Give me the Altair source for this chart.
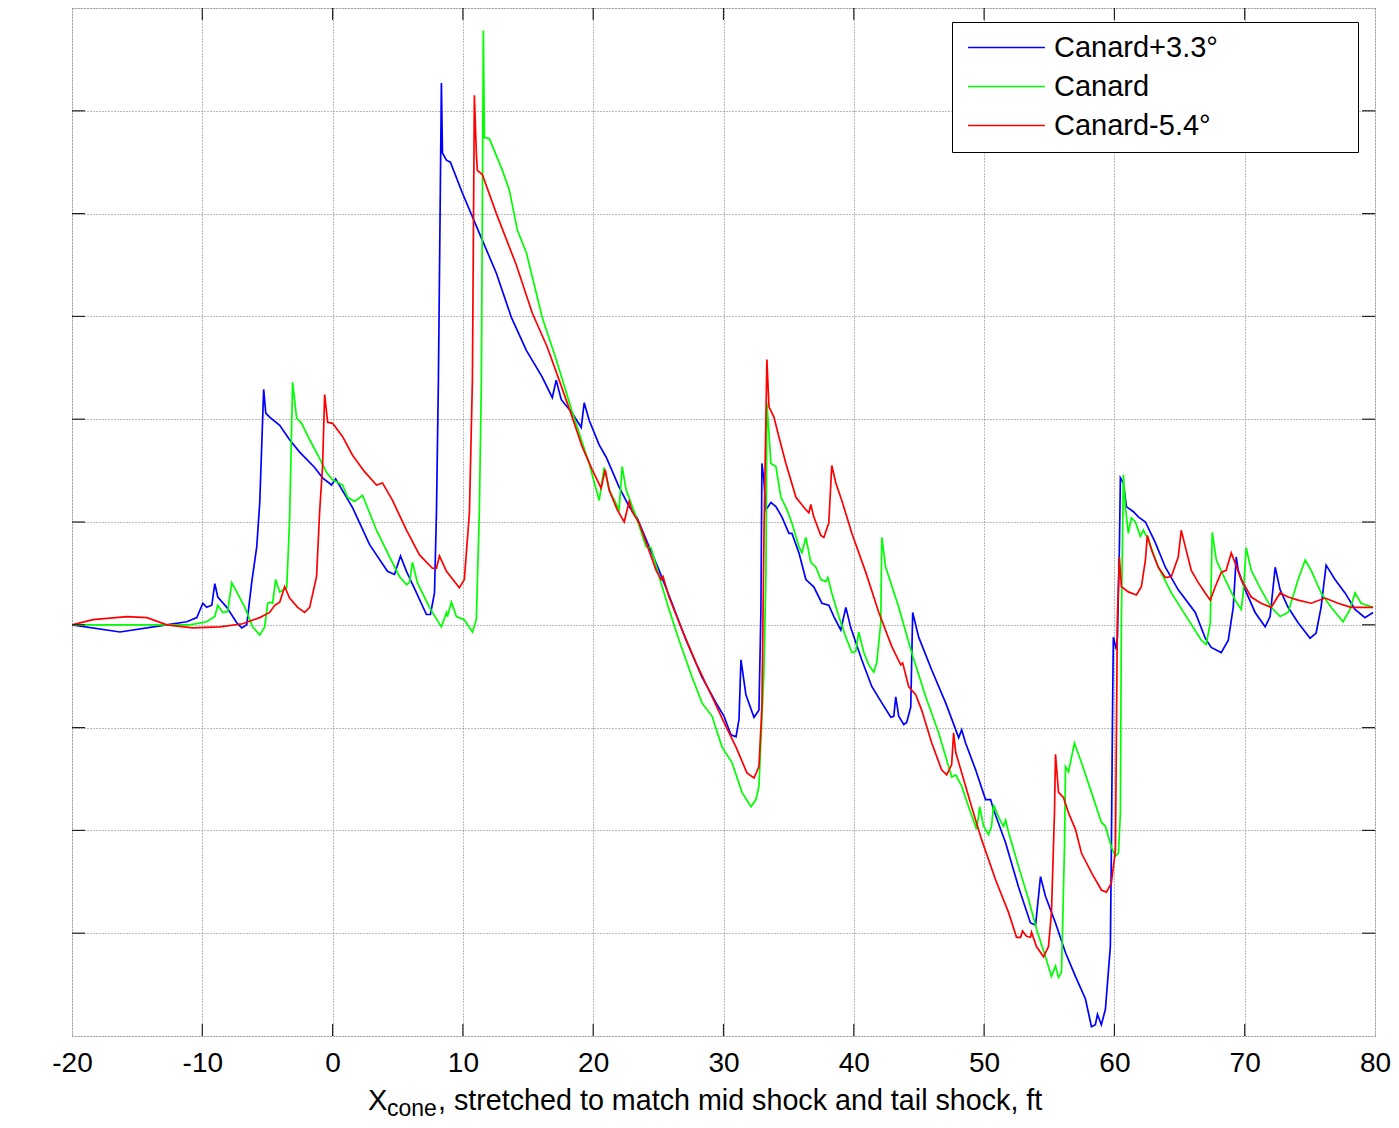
import altair as alt
import pandas as pd

# ---------------- data ----------------
series_names = ["Canard+3.3°", "Canard", "Canard-5.4°"]
series_colors = ["#0000ff", "#00ff00", "#ff0000"]

blue_x = [-20.00, -16.32, -13.26, -11.19, -10.42, -9.96, -9.66, -9.27, -9.04, -8.81,
          -8.12, -7.36, -6.97, -6.59, -6.21, -5.82, -5.59, -5.29, -5.13, -4.83,
          -4.06, -3.30, -2.53, -1.38, -0.77, -0.08, 0.23, 1.53, 2.84, 4.21,
          4.75, 5.21, 5.67, 6.44, 7.20, 7.51, 7.82, 7.97, 8.12, 8.35,
          8.43, 8.74, 9.04, 9.96, 11.26, 12.57, 13.72, 14.87, 16.09, 16.86,
          17.16, 17.55, 18.39, 19.08, 19.31, 19.69, 20.46, 21.00, 21.99, 22.76,
          23.37, 24.29, 25.06, 26.05, 27.13, 28.35, 29.43, 30.04, 30.57, 30.96,
          31.19, 31.34, 31.72, 32.34, 32.72, 32.87, 32.95, 33.10, 33.26, 33.64,
          34.02, 34.48, 35.02, 35.25, 35.79, 36.32, 36.93, 37.55, 38.08, 38.47,
          39.00, 39.39, 39.77, 40.61, 41.38, 42.15, 42.84, 43.07, 43.22, 43.45,
          43.83, 44.06, 44.37, 44.52, 44.98, 45.98, 47.05, 47.82, 48.05, 48.28,
          48.58, 49.35, 50.11, 50.50, 50.73, 51.65, 52.64, 53.56, 53.95, 54.33,
          54.71, 55.48, 56.25, 57.01, 57.78, 58.24, 58.54, 58.70, 59.00, 59.31,
          59.69, 59.77, 59.85, 59.92, 60.15, 60.23, 60.38, 60.46, 60.69, 60.92,
          61.46, 61.84, 62.38, 63.14, 63.91, 64.90, 66.21, 66.97, 67.43, 68.20,
          68.74, 69.12, 69.35, 69.50, 70.04, 70.80, 71.57, 71.95, 72.34, 72.72,
          73.33, 74.10, 75.02, 75.48, 75.86, 76.25, 76.93, 77.70, 78.47, 79.23,
          79.85]
blue_y = [0.00, -0.07, -0.01, 0.03, 0.07, 0.21, 0.17, 0.19, 0.40, 0.27,
          0.17, 0.02, -0.03, 0.00, 0.41, 0.76, 1.19, 2.29, 2.06, 2.02,
          1.94, 1.80, 1.68, 1.53, 1.43, 1.36, 1.42, 1.14, 0.78, 0.52,
          0.49, 0.67, 0.52, 0.31, 0.10, 0.10, 0.31, 1.09, 2.38, 5.27,
          4.59, 4.52, 4.50, 4.20, 3.81, 3.42, 2.99, 2.67, 2.41, 2.21,
          2.38, 2.19, 2.06, 1.92, 2.16, 1.99, 1.75, 1.63, 1.34, 1.15,
          1.04, 0.76, 0.53, 0.21, -0.15, -0.51, -0.76, -0.89, -1.07, -1.09,
          -0.92, -0.34, -0.68, -0.90, -0.83, 0.12, 1.57, 1.41, 1.12, 1.19,
          1.15, 1.05, 0.89, 0.89, 0.70, 0.44, 0.37, 0.21, 0.19, 0.08,
          -0.05, 0.17, -0.03, -0.34, -0.60, -0.76, -0.90, -0.89, -0.70, -0.89,
          -0.97, -0.95, -0.80, 0.12, -0.12, -0.44, -0.76, -1.02, -1.10, -1.02,
          -1.15, -1.41, -1.70, -1.70, -1.80, -2.12, -2.55, -2.90, -2.92, -2.45,
          -2.64, -2.90, -3.19, -3.42, -3.64, -3.91, -3.89, -3.79, -3.89, -3.74,
          -3.13, -2.16, -0.95, -0.12, -0.24, -0.12, 0.73, 1.43, 1.38, 1.15,
          1.10, 1.05, 1.00, 0.80, 0.56, 0.34, 0.12, -0.13, -0.22, -0.27,
          -0.15, 0.17, 0.66, 0.53, 0.34, 0.12, -0.02, 0.08, 0.56, 0.34,
          0.17, 0.02, -0.13, -0.08, 0.17, 0.58, 0.44, 0.31, 0.15, 0.07,
          0.12]

green_x = [-20.00, -12.72, -10.96, -9.66, -9.04, -8.81, -8.43, -8.05, -7.74, -7.36,
           -6.74, -6.13, -5.59, -5.21, -4.98, -4.75, -4.60, -4.37, -4.06, -3.52,
           -3.30, -3.07, -2.76, -2.38, -1.76, -1.00, -0.46, 0.00, 0.77, 1.15,
           1.69, 2.30, 3.37, 4.37, 5.13, 5.67, 5.90, 6.13, 6.51, 7.43,
           8.35, 8.74, 8.81, 9.12, 9.50, 10.11, 10.73, 11.03, 11.26, 11.42,
           11.57, 11.65, 12.03, 13.03, 13.56, 14.18, 14.87, 16.09, 17.16, 18.39,
           19.69, 20.46, 20.84, 21.23, 21.99, 22.22, 22.53, 23.30, 24.06, 24.44,
           25.06, 25.82, 26.59, 27.59, 28.35, 29.12, 29.89, 30.65, 31.42, 32.11,
           32.49, 32.72, 33.10, 33.26, 33.33, 33.64, 34.02, 34.41, 34.87, 35.25,
           35.79, 36.02, 36.32, 36.70, 37.09, 37.47, 37.85, 38.01, 38.31, 38.85,
           39.39, 39.85, 40.15, 40.38, 40.77, 41.15, 41.53, 41.76, 42.07, 42.15,
           42.45, 43.45, 44.44, 45.52, 46.51, 47.28, 47.51, 47.82, 48.28, 48.81,
           49.43, 49.66, 49.96, 50.34, 50.57, 50.73, 51.11, 51.49, 51.65, 51.88,
           52.64, 53.41, 54.02, 54.71, 55.17, 55.48, 55.71, 55.94, 56.17, 56.25,
           56.48, 56.93, 57.47, 58.24, 59.00, 59.31, 59.77, 60.08, 60.31, 60.46,
           60.54, 60.69, 60.84, 61.07, 61.30, 61.61, 61.99, 62.22, 62.61, 63.37,
           64.37, 65.67, 66.67, 67.05, 67.36, 67.51, 67.82, 68.51, 69.27, 69.73,
           69.89, 70.11, 70.50, 71.26, 72.03, 72.72, 73.33, 74.10, 74.64, 75.10,
           75.86, 76.63, 77.55, 78.08, 78.47, 78.93, 79.85]
green_y = [0.00, 0.00, 0.00, 0.03, 0.08, 0.19, 0.12, 0.13, 0.41, 0.32,
           0.17, -0.02, -0.10, -0.02, 0.21, 0.22, 0.21, 0.44, 0.32, 0.36,
           1.02, 2.36, 2.01, 1.96, 1.80, 1.62, 1.48, 1.41, 1.36, 1.24,
           1.20, 1.26, 0.92, 0.66, 0.47, 0.39, 0.41, 0.61, 0.41, 0.17,
           -0.02, 0.12, 0.08, 0.22, 0.08, 0.05, -0.07, 0.05, 1.09, 2.38,
           5.78, 4.74, 4.73, 4.42, 4.23, 3.84, 3.62, 2.99, 2.58, 2.07,
           1.57, 1.21, 1.53, 1.31, 1.12, 1.54, 1.31, 1.05, 0.76, 0.75,
           0.47, 0.15, -0.15, -0.51, -0.76, -0.89, -1.19, -1.34, -1.63, -1.77,
           -1.70, -1.57, -0.47, 0.51, 2.16, 1.57, 1.54, 1.24, 1.12, 0.99,
           0.76, 0.70, 0.85, 0.61, 0.56, 0.44, 0.42, 0.46, 0.31, 0.08,
           -0.12, -0.27, -0.26, -0.07, -0.27, -0.39, -0.46, -0.37, 0.02, 0.85,
           0.56, 0.17, -0.27, -0.70, -1.05, -1.38, -1.48, -1.46, -1.57, -1.77,
           -1.99, -1.77, -1.96, -2.04, -1.96, -1.75, -1.87, -1.96, -1.90, -2.02,
           -2.35, -2.67, -2.96, -3.23, -3.42, -3.32, -3.43, -3.38, -2.16, -1.38,
           -1.43, -1.15, -1.34, -1.63, -1.92, -1.96, -2.16, -2.25, -2.22, -1.83,
           0.08, 1.46, 1.15, 0.89, 1.04, 1.00, 0.86, 0.92, 0.83, 0.56,
           0.31, 0.05, -0.15, -0.19, 0.02, 0.90, 0.63, 0.44, 0.24, 0.15,
           0.31, 0.75, 0.53, 0.34, 0.17, 0.08, 0.12, 0.44, 0.63, 0.53,
           0.31, 0.17, 0.03, 0.15, 0.31, 0.21, 0.17]

red_x = [-20.00, -18.39, -15.79, -14.25, -12.72, -10.73, -8.66, -6.90, -5.59, -4.83,
         -4.44, -4.06, -3.68, -3.30, -2.68, -2.15, -1.76, -1.23, -1.00, -0.77,
         -0.61, -0.38, 0.00, 0.77, 1.53, 2.45, 3.37, 3.83, 4.60, 5.67,
         6.67, 7.66, 7.97, 8.20, 8.74, 9.73, 10.11, 10.50, 10.73, 10.88,
         11.03, 11.11, 11.49, 12.57, 14.10, 15.33, 16.48, 17.39, 18.39, 19.16,
         19.92, 20.61, 20.92, 21.23, 21.84, 22.38, 22.76, 22.99, 23.52, 24.06,
         24.83, 25.21, 25.36, 25.82, 26.82, 27.89, 29.12, 30.04, 30.96, 31.80,
         32.34, 32.72, 32.95, 33.10, 33.33, 33.49, 33.87, 34.25, 34.79, 35.56,
         36.32, 36.55, 36.70, 36.93, 37.47, 37.70, 38.08, 38.31, 38.62, 39.08,
         39.85, 40.92, 41.92, 42.91, 43.60, 43.75, 44.21, 44.75, 45.21, 45.98,
         46.74, 47.13, 47.51, 47.66, 47.82, 48.28, 49.04, 49.81, 50.88, 51.88,
         52.49, 52.80, 52.95, 53.26, 53.56, 53.64, 54.02, 54.56, 54.94, 55.17,
         55.40, 55.48, 55.71, 56.09, 56.48, 57.01, 57.47, 58.24, 59.00, 59.39,
         59.77, 60.08, 60.23, 60.38, 60.54, 61.07, 61.69, 62.07, 62.38, 62.53,
         62.84, 63.37, 63.91, 64.37, 64.90, 65.13, 65.44, 65.90, 66.44, 66.97,
         67.36, 67.74, 68.20, 68.58, 68.97, 69.27, 69.73, 70.50, 71.26, 72.03,
         72.72, 73.33, 74.10, 75.10, 76.17, 77.16, 78.16, 79.23, 79.85]
red_y = [0.00, 0.05, 0.08, 0.07, 0.00, -0.03, -0.02, 0.01, 0.07, 0.12,
         0.19, 0.22, 0.37, 0.26, 0.17, 0.12, 0.17, 0.47, 1.09, 1.54,
         2.24, 1.97, 1.96, 1.83, 1.65, 1.49, 1.36, 1.38, 1.21, 0.92,
         0.68, 0.55, 0.55, 0.67, 0.52, 0.36, 0.44, 1.09, 2.38, 5.15,
         4.59, 4.42, 4.38, 4.00, 3.50, 3.03, 2.70, 2.38, 2.02, 1.73,
         1.51, 1.33, 1.51, 1.31, 1.12, 1.00, 1.20, 1.10, 0.99, 0.80,
         0.53, 0.44, 0.47, 0.27, -0.05, -0.37, -0.70, -0.95, -1.19, -1.44,
         -1.49, -1.38, -0.80, 0.83, 2.58, 2.12, 2.02, 1.83, 1.57, 1.24,
         1.12, 1.09, 1.17, 1.05, 0.87, 0.85, 0.99, 1.55, 1.38, 1.21,
         0.89, 0.51, 0.12, -0.21, -0.39, -0.37, -0.60, -0.68, -0.83, -1.15,
         -1.41, -1.46, -1.36, -1.05, -1.24, -1.44, -1.77, -2.09, -2.48, -2.80,
         -3.04, -3.04, -2.98, -3.03, -3.04, -2.99, -3.13, -3.23, -3.13, -2.80,
         -1.83, -1.26, -1.63, -1.68, -1.83, -1.99, -2.22, -2.41, -2.58, -2.60,
         -2.51, -2.19, 0.08, 0.66, 0.37, 0.32, 0.29, 0.37, 0.63, 0.87,
         0.73, 0.56, 0.46, 0.47, 0.66, 0.92, 0.76, 0.53, 0.41, 0.31,
         0.24, 0.37, 0.51, 0.53, 0.70, 0.60, 0.44, 0.27, 0.21, 0.17,
         0.31, 0.27, 0.24, 0.21, 0.26, 0.21, 0.17, 0.17, 0.17]

x_ticks = [-20, -10, 0, 10, 20, 30, 40, 50, 60, 70, 80]
y_ticks = [-4, -3, -2, -1, 0, 1, 2, 3, 4, 5, 6]
title_x = "X"
title_sub = "cone"
title_rest = ", stretched to match mid shock and tail shock, ft"

# ---------------- table ----------------
rows = []
for name, xs, ys in zip(series_names, [blue_x, green_x, red_x], [blue_y, green_y, red_y]):
    for i, (xv, yv) in enumerate(zip(xs, ys)):
        rows.append({"series": name, "x": xv, "y": yv, "i": i})
df = pd.DataFrame(rows)

W, H = 1303, 1028
FONT = "Liberation Sans"
xscale = alt.Scale(domain=[-20, 80], nice=False, zero=False)
yscale = alt.Scale(domain=[-4, 6], nice=False, zero=False)

x_axis = alt.Axis(values=x_ticks, title=None, labelExpr="datum.value + ''",
                  grid=True, gridDash=[1, 2], gridColor="#666", gridOpacity=0.9,
                  ticks=False, domain=False, labelFontSize=28, labelFont=FONT,
                  labelColor="black", labelPadding=13, labelFlush=False)
y_axis = alt.Axis(values=y_ticks, title=None, labels=False, ticks=False,
                  domain=False, grid=True, gridDash=[1, 2], gridColor="#666",
                  gridOpacity=0.9)

# trailing no-break spaces widen the legend box; the zero-width space keeps them from being trimmed
pad = "\u00a0" * 16 + "\u200b"

lines = alt.Chart(df).mark_line(strokeWidth=1.7, clip=True).encode(
    x=alt.X("x:Q", scale=xscale, axis=x_axis),
    y=alt.Y("y:Q", scale=yscale, axis=y_axis),
    color=alt.Color("series:N", sort=series_names,
                    scale=alt.Scale(domain=series_names, range=series_colors),
                    legend=alt.Legend(title=None, orient="none", legendX=880, legendY=14,
                                      symbolType="stroke", symbolSize=5900,
                                      symbolStrokeWidth=1.5, labelFontSize=29,
                                      labelFont=FONT, labelColor="black",
                                      strokeColor="black", fillColor="white",
                                      padding=11, rowPadding=9, labelOffset=8,
                                      symbolOffset=4, clipHeight=29, labelLimit=600,
                                      labelExpr=f"datum.label + '{pad}'")),
    order=alt.Order("i:Q"),
)

xt_df = pd.DataFrame({"x": x_ticks[1:-1]})
yt_df = pd.DataFrame({"y": y_ticks[1:-1]})

xt_bottom = alt.Chart(xt_df).mark_rule(color="#222", strokeWidth=1.2).encode(
    x=alt.X("x:Q", scale=xscale, axis=x_axis), y=alt.value(H), y2=alt.value(H - 12))
xt_top = alt.Chart(xt_df).mark_rule(color="#222", strokeWidth=1.2).encode(
    x=alt.X("x:Q", scale=xscale, axis=x_axis), y=alt.value(0), y2=alt.value(12))
yt_left = alt.Chart(yt_df).mark_rule(color="#222", strokeWidth=1.2).encode(
    y=alt.Y("y:Q", scale=yscale, axis=y_axis), x=alt.value(0), x2=alt.value(13))
yt_right = alt.Chart(yt_df).mark_rule(color="#222", strokeWidth=1.2).encode(
    y=alt.Y("y:Q", scale=yscale, axis=y_axis), x=alt.value(W), x2=alt.value(W - 13))

t1 = alt.Chart(pd.DataFrame({"t": [title_x]})).mark_text(
    align="left", baseline="alphabetic", fontSize=29, font=FONT, color="black").encode(
    text="t:N", x=alt.value(296), y=alt.value(1102))
t2 = alt.Chart(pd.DataFrame({"t": [title_sub]})).mark_text(
    align="left", baseline="alphabetic", fontSize=23, font=FONT, color="black").encode(
    text="t:N", x=alt.value(315), y=alt.value(1108))
t3 = alt.Chart(pd.DataFrame({"t": [title_rest]})).mark_text(
    align="left", baseline="alphabetic", fontSize=28.7, font=FONT, color="black").encode(
    text="t:N", x=alt.value(366), y=alt.value(1102))

chart = alt.layer(lines, xt_bottom, xt_top, yt_left, yt_right, t1, t2, t3).properties(
    width=W, height=H,
    autosize=alt.AutoSizeParams(type="none"),
    padding={"left": 64, "top": 0, "right": 16, "bottom": 84},
).configure_view(stroke="#222", strokeWidth=1.2).configure(font=FONT)

chart.save("out.html", embed_options={"renderer": "svg", "actions": False})
